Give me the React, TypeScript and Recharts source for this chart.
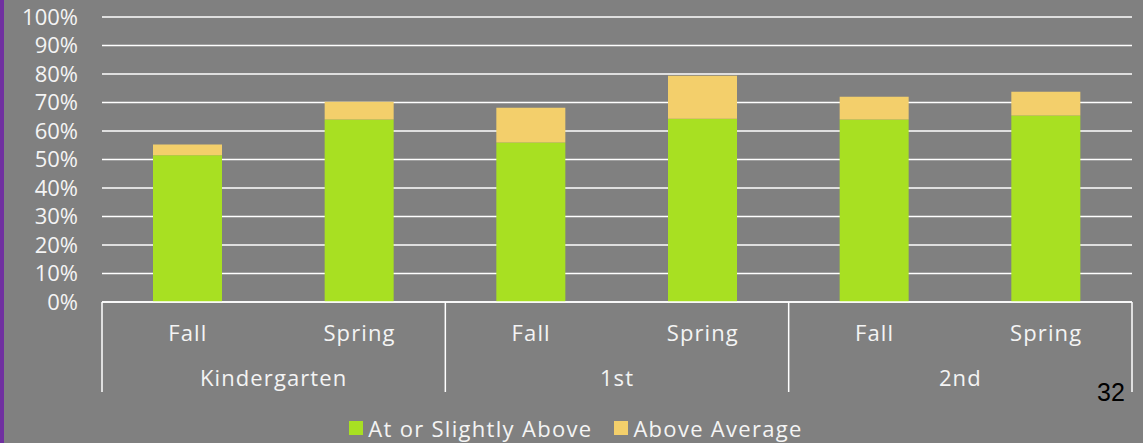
import React from "react";
import {
  BarChart,
  Bar,
  XAxis,
  YAxis,
  CartesianGrid,
  Legend,
} from "recharts";

const seasons = ["Fall", "Spring", "Fall", "Spring", "Fall", "Spring"];
const grades = ["Kindergarten", "Kindergarten", "1st", "1st", "2nd", "2nd"];
const atOrSlightlyAbove = [51.5, 64, 56, 64.3, 64, 65.4];
const aboveAverage = [3.8, 6.3, 12.2, 15.1, 8, 8.4];
const yTicks = [0, 10, 20, 30, 40, 50, 60, 70, 80, 90, 100];

const SERIES = [
  { key: "atOrAbove", name: "At or Slightly Above", color: "#a8e022" },
  { key: "aboveAvg", name: "Above Average", color: "#f3cf6b" },
];

const data = seasons.map((s, i) => ({
  season: s,
  grade: grades[i],
  atOrAbove: atOrSlightlyAbove[i],
  aboveAvg: aboveAverage[i],
}));

const FONT = "'Open Sans', sans-serif";
const TEXT = "#f4f4f4";

function SeasonTick(props: any) {
  const { x, y, payload } = props;
  return (
    <text x={x} y={y + 31} dy="0.35em" textAnchor="middle" fill={TEXT} fontSize={22} fontFamily={FONT} letterSpacing={1.1}>
      {payload.value}
    </text>
  );
}

// group labels plus the separator lines between grades
function GradeTick(props: any) {
  const { x, y, payload, index, visibleTicksCount } = props;
  const half = payload.offset || 171.67;
  const last = index === (visibleTicksCount ?? 3) - 1;
  return (
    <g>
      <line x1={x - half} x2={x - half} y1={y - 45} y2={y + 45} stroke="#fff" strokeWidth={1.5} />
      {last && (
        <line x1={x + half} x2={x + half} y1={y - 45} y2={y + 45} stroke="#fff" strokeWidth={1.5} />
      )}
      <text x={x} y={y + 31} dy="0.35em" textAnchor="middle" fill={TEXT} fontSize={22} fontFamily={FONT} letterSpacing={1.1}>
        {payload.value}
      </text>
    </g>
  );
}

function LegendBox() {
  return (
    <div style={{ height: 51, display: "flex", justifyContent: "center", alignItems: "flex-end", paddingLeft: 42, boxSizing: "border-box" }}>
      {SERIES.map((s) => (
        <div key={s.key} style={{ display: "flex", alignItems: "center", marginRight: 22, marginBottom: 3 }}>
          <span style={{ width: 14, height: 14, background: s.color, marginRight: 5, display: "inline-block" }} />
          <span style={{ color: TEXT, fontSize: 22, fontFamily: FONT, lineHeight: "24px", letterSpacing: 1.3 }}>{s.name}</span>
        </div>
      ))}
    </div>
  );
}

export default function App() {
  return (
    <div style={{ position: "fixed", left: 0, top: 0, width: 1143, height: 443, background: "#808080", overflow: "hidden" }}>
      <div style={{ position: "absolute", left: 0, top: 0, width: 4, height: 443, background: "#7030a0" }} />
      <BarChart
        width={1143}
        height={443}
        data={data}
        margin={{ top: 17, right: 11, bottom: 0, left: 0 }}
        barSize={69}
      >
        <CartesianGrid vertical={false} stroke="#ffffff" strokeWidth={1.5} />
        <YAxis
          domain={[0, 100]}
          ticks={yTicks}
          interval={0}
          width={102}
          axisLine={false}
          tickLine={false}
          tickSize={0}
          tickMargin={24}
          tickFormatter={(v) => `${v}%`}
          tick={{ fill: TEXT, fontSize: 22, fontFamily: FONT }}
        />
        <XAxis
          dataKey="season"
          height={45}
          axisLine={{ stroke: "#ffffff", strokeWidth: 1.5 }}
          tickLine={false}
          tickSize={0}
          tickMargin={0}
          tick={<SeasonTick />}
          interval={0}
        />
        <XAxis
          xAxisId="grade"
          dataKey="grade"
          allowDuplicatedCategory={false}
          height={45}
          axisLine={false}
          tickLine={false}
          tickSize={0}
          tickMargin={0}
          tick={<GradeTick />}
          interval={0}
        />
        <Legend verticalAlign="bottom" content={<LegendBox />} wrapperStyle={{ height: 51 }} />
        {SERIES.map((s) => (
          <Bar key={s.key} dataKey={s.key} name={s.name} stackId="a" fill={s.color} isAnimationActive={false} />
        ))}
      </BarChart>
      <div style={{ position: "absolute", left: 1097, top: 380, fontFamily: "'Liberation Sans', Arial, sans-serif", fontSize: 25, lineHeight: 1, color: "#000" }}>
        32
      </div>
    </div>
  );
}
